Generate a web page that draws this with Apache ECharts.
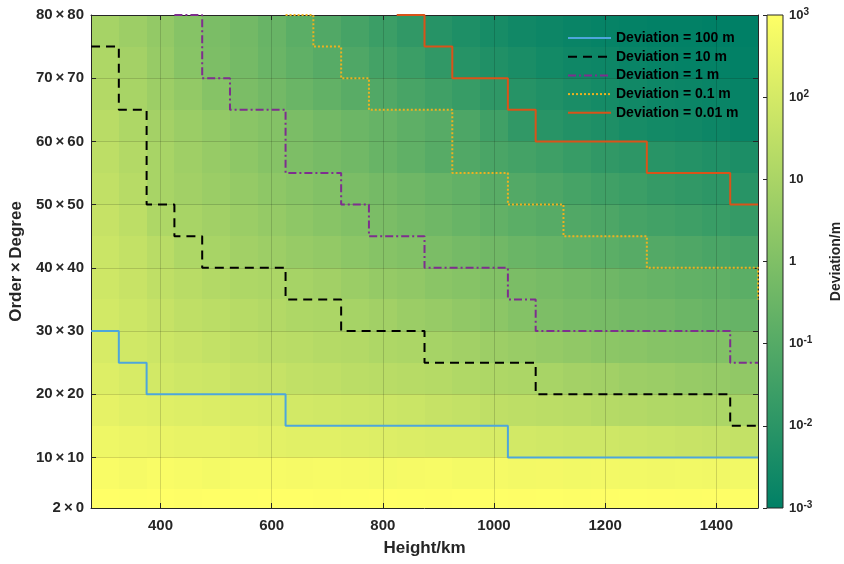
<!DOCTYPE html>
<html>
<head>
<meta charset="utf-8">
<script src="https://cdn.jsdelivr.net/npm/echarts@6/dist/echarts.min.js"></script>
<style>
html,body{margin:0;padding:0;background:#fff}
#main{width:844px;height:564px}
</style>
</head>
<body>
<div id="main"></div>
<script>
// cell edges: height (km) and order/degree
var xEdges = [275,325,375,425,475,525,575,625,675,725,775,825,875,925,975,1025,1075,1125,1175,1225,1275,1325,1375,1425,1475];
var yEdges = [2,5,10,15,20,25,30,35,40,45,50,55,60,65,70,75,80];

// log10(deviation / m), one array per order band, from low to high degree
var band2  = [3.0,2.98,3.0,2.97,3.0,2.98,2.99,3.0,2.97,2.98,3.0,2.98,2.97,2.99,2.98,2.97,2.98,2.96,2.97,2.98,2.97,2.96,2.97,2.96];
var band5  = [2.85,2.78,2.85,2.82,2.75,2.8,2.82,2.78,2.8,2.78,2.75,2.78,2.8,2.75,2.77,2.72,2.74,2.7,2.72,2.7,2.68,2.7,2.68,2.7];
var band10 = [2.6,2.55,2.5,2.45,2.45,2.4,2.35,2.3,2.3,2.25,2.2,2.15,2.1,2.1,2.05,1.95,1.9,1.85,1.85,1.8,1.75,1.7,1.65,1.6];
var band15 = [2.4,2.3,2.25,2.2,2.15,2.1,2.05,1.95,1.9,1.85,1.8,1.75,1.65,1.6,1.5,1.45,1.4,1.35,1.25,1.2,1.15,1.1,1.05,0.95];
var band20 = [2.2,2.05,1.95,1.85,1.8,1.7,1.65,1.55,1.5,1.4,1.35,1.3,1.25,1.15,1.1,1.05,0.95,0.85,0.8,0.7,0.65,0.55,0.5,0.4];
var band25 = [2.05,1.9,1.8,1.7,1.6,1.5,1.4,1.35,1.25,1.2,1.1,1.05,0.9,0.8,0.7,0.6,0.5,0.4,0.3,0.25,0.15,0.1,0.05,-0.05];
var band30 = [1.95,1.8,1.65,1.5,1.4,1.3,1.2,1.1,1.05,0.9,0.8,0.65,0.55,0.4,0.3,0.1,-0.05,-0.15,-0.2,-0.3,-0.35,-0.45,-0.55,-0.6];
var band35 = [1.85,1.7,1.5,1.35,1.2,1.1,1.05,0.9,0.8,0.65,0.5,0.4,0.25,0.15,0.05,-0.1,-0.2,-0.3,-0.4,-0.5,-0.6,-0.7,-0.75,-0.85];
var band40 = [1.75,1.6,1.35,1.1,0.95,0.8,0.7,0.55,0.45,0.3,0.15,0.05,-0.1,-0.25,-0.35,-0.5,-0.6,-0.75,-0.85,-0.95,-1.05,-1.15,-1.25,-1.35];
var band45 = [1.65,1.45,1.1,0.95,0.8,0.65,0.5,0.35,0.2,0.05,-0.1,-0.25,-0.4,-0.55,-0.7,-0.85,-0.95,-1.1,-1.2,-1.35,-1.45,-1.55,-1.65,-1.75];
var band50 = [1.55,1.3,0.95,0.8,0.65,0.5,0.35,0.2,0.05,-0.1,-0.25,-0.4,-0.55,-0.7,-0.9,-1.05,-1.2,-1.35,-1.5,-1.6,-1.75,-1.85,-1.95,-2.05];
var band55 = [1.45,1.2,0.95,0.75,0.55,0.35,0.15,-0.05,-0.2,-0.35,-0.55,-0.75,-0.95,-1.1,-1.25,-1.4,-1.55,-1.7,-1.85,-1.95,-2.05,-2.15,-2.25,-2.35];
var band60 = [1.35,1.1,0.85,0.65,0.45,0.25,0.1,-0.1,-0.3,-0.45,-0.6,-0.8,-0.95,-1.2,-1.5,-1.85,-2.05,-2.2,-2.3,-2.45,-2.55,-2.6,-2.7,-2.8];
var band65 = [1.2,0.95,0.7,0.45,0.15,-0.1,-0.3,-0.5,-0.7,-0.9,-1.1,-1.3,-1.5,-1.7,-1.9,-2.1,-2.25,-2.4,-2.5,-2.6,-2.7,-2.75,-2.8,-2.85];
var band70 = [1.1,0.85,0.55,0.2,-0.05,-0.25,-0.5,-0.75,-0.95,-1.15,-1.4,-1.6,-1.85,-2.1,-2.25,-2.4,-2.55,-2.65,-2.7,-2.8,-2.85,-2.9,-2.9,-2.95];
var band75 = [0.9,0.7,0.45,0.15,-0.1,-0.3,-0.55,-0.85,-1.1,-1.35,-1.6,-1.85,-2.1,-2.3,-2.45,-2.6,-2.7,-2.8,-2.85,-2.9,-2.95,-2.95,-3.0,-3.0];

// contour lines [height, degree], each point starts a horizontal step
var line100m = [[275,30],[325,25],[375,20],[625,15],[1025,10],[1475,10]];
var line10m  = [[275,75],[325,65],[375,50],[425,45],[475,40],[625,35],[725,30],[875,25],[1075,20],[1425,15],[1475,15]];
var line1m   = [[425,80],[475,70],[525,65],[625,55],[725,50],[775,45],[875,40],[1025,35],[1075,30],[1425,25],[1475,25]];
var line01m  = [[625,80],[675,75],[725,70],[775,65],[925,55],[1025,50],[1125,45],[1275,40],[1475,40],[1475,35]];
var line001m = [[825,80],[875,75],[925,70],[1025,65],[1075,60],[1275,55],[1425,50],[1475,50]];

var lineNames = ['Deviation = 100 m','Deviation = 10 m','Deviation = 1 m','Deviation = 0.1 m','Deviation = 0.01 m'];

var xTicks = [400,600,800,1000,1200,1400];
var yTicks = [10,20,30,40,50,60,70];
var yLabelValues = [2,10,20,30,40,50,60,70,80];
var yLabels = ['2×0','10×10','20×20','30×30','40×40','50×50','60×60','70×70','80×80'];

var FONT = '"Liberation Sans", Arial, sans-serif';
var INK = '#262626';

var bands = [band2,band5,band10,band15,band20,band25,band30,band35,band40,band45,band50,band55,band60,band65,band70,band75];
var cells = [];
for (var r = 0; r < bands.length; r++) {
    for (var c = 0; c < bands[r].length; c++) {
        cells.push([xEdges[c], xEdges[c+1], yEdges[r], yEdges[r+1], bands[r][c]]);
    }
}

function renderCell(params, api) {
    var p0 = api.coord([api.value(0), api.value(3)]);
    var p1 = api.coord([api.value(1), api.value(2)]);
    var x0 = Math.round(p0[0]), y0 = Math.round(p0[1]);
    var x1 = Math.round(p1[0]), y1 = Math.round(p1[1]);
    return {
        type: 'rect',
        shape: {x: x0, y: y0, width: x1 - x0, height: y1 - y0},
        style: {fill: api.visual('color')}
    };
}

// TeX-like spacing around the times sign
function spaced(s) {
    return s.replace('×', '\u2009×\u2009');
}

function yLabel(v) {
    var i = yLabelValues.indexOf(v);
    return i >= 0 ? spaced(yLabels[i]) : '';
}

function cbLabel(v) {
    if (v === 0) return '{b|1}';
    if (v === 1) return '{b|10}';
    return '{b|10}{s|' + v + '}';
}

var myChart = echarts.init(document.getElementById('main'));

var lineStyles = [
    {color: '#4da6dc', width: 2, type: 'solid'},
    {color: '#000000', width: 2, type: [9, 6]},
    {color: '#7e2f8e', width: 2, type: [8, 3, 2, 3]},
    {color: '#edb120', width: 2, type: [2, 2]},
    {color: '#d95319', width: 2, type: 'solid'}
];
var lineData = [line100m, line10m, line1m, line01m, line001m];

var series = [{
    type: 'custom',
    xAxisIndex: 0,
    yAxisIndex: 0,
    renderItem: renderCell,
    encode: {x: [0, 1], y: [2, 3]},
    data: cells,
    z: 1,
    silent: true
}];
for (var k = 0; k < lineData.length; k++) {
    series.push({
        name: lineNames[k],
        type: 'line',
        step: 'end',
        symbol: 'none',
        xAxisIndex: 0,
        yAxisIndex: 0,
        clip: false,
        z: 6,
        lineStyle: lineStyles[k],
        itemStyle: {color: lineStyles[k].color},
        data: lineData[k]
    });
}

var option = {
    animation: false,
    backgroundColor: '#ffffff',
    textStyle: {fontFamily: FONT},
    visualMap: {
        type: 'continuous',
        show: false,
        min: -3,
        max: 3,
        dimension: 4,
        seriesIndex: 0,
        inRange: {color: ['#008066', '#ffff66']}
    },
    legend: {
        data: lineNames,
        orient: 'vertical',
        left: 567,
        top: 31,
        padding: 0,
        itemWidth: 43,
        itemHeight: 14,
        itemGap: 4.7,
        itemStyle: {opacity: 0, borderWidth: 0},
        textStyle: {fontFamily: FONT, fontWeight: 'bold', fontSize: 14, color: '#000'}
    },
    grid: [
        {left: 89, top: 15, width: 669, height: 493, containLabel: false},
        {left: 767, top: 15, width: 24, height: 493, show: true, borderColor: INK, borderWidth: 1,
         backgroundColor: new echarts.graphic.LinearGradient(0, 0, 0, 1, [
             {offset: 0, color: '#ffff66'}, {offset: 1, color: '#008066'}])}
    ],
    xAxis: [
        {
            gridIndex: 0, type: 'value', min: 275, max: 1475, z: 3,
            name: 'Height/km', nameLocation: 'middle', nameGap: 32,
            nameTextStyle: {fontFamily: FONT, fontWeight: 'bold', fontSize: 17, color: INK},
            axisLine: {show: true, onZero: false, lineStyle: {color: INK, width: 1}},
            axisTick: {show: true, inside: true, length: 5, customValues: xTicks, lineStyle: {color: INK}},
            axisLabel: {customValues: xTicks, margin: 10, formatter: function (v) { return String(v); },
                        fontFamily: FONT, fontWeight: 'bold', fontSize: 15, color: INK},
            splitLine: {show: true, customValues: xTicks, lineStyle: {color: 'rgba(0,0,0,0.15)', width: 1}}
        },
        {
            gridIndex: 0, type: 'value', min: 275, max: 1475, position: 'top', z: 3,
            axisLine: {show: true, onZero: false, lineStyle: {color: INK, width: 1}},
            axisTick: {show: true, inside: true, length: 5, customValues: xTicks, lineStyle: {color: INK}},
            axisLabel: {show: false},
            splitLine: {show: false}
        },
        {gridIndex: 1, type: 'value', min: 0, max: 1, show: false}
    ],
    yAxis: [
        {
            gridIndex: 0, type: 'value', min: 2, max: 80, z: 3,
            name: spaced('Order×Degree'), nameLocation: 'middle', nameGap: 57, nameRotate: 90,
            nameTextStyle: {fontFamily: FONT, fontWeight: 'bold', fontSize: 17, color: INK},
            axisLine: {show: true, onZero: false, lineStyle: {color: INK, width: 1}},
            axisTick: {show: true, inside: true, length: 5, customValues: yTicks, lineStyle: {color: INK}},
            axisLabel: {customValues: yLabelValues, formatter: yLabel, margin: 7, fontFamily: FONT, fontWeight: 'bold', fontSize: 15, color: INK},
            splitLine: {show: true, customValues: yTicks, lineStyle: {color: 'rgba(0,0,0,0.15)', width: 1}}
        },
        {
            gridIndex: 0, type: 'value', min: 2, max: 80, position: 'right', z: 3,
            axisLine: {show: true, onZero: false, lineStyle: {color: INK, width: 1}},
            axisTick: {show: true, inside: true, length: 5, customValues: yTicks, lineStyle: {color: INK}},
            axisLabel: {show: false},
            splitLine: {show: false}
        },
        {
            gridIndex: 1, type: 'value', min: -3, max: 3, interval: 1, position: 'right', z: 3,
            name: 'Deviation/m', nameLocation: 'middle', nameGap: 46, nameRotate: 90,
            nameTextStyle: {fontFamily: FONT, fontWeight: 'bold', fontSize: 14, color: INK},
            axisLine: {show: false},
            axisTick: {show: true, inside: true, length: 4, lineStyle: {color: INK}},
            axisLabel: {
                margin: 6, formatter: cbLabel,
                rich: {
                    b: {fontFamily: FONT, fontWeight: 'bold', fontSize: 13, color: INK, lineHeight: 16},
                    s: {fontFamily: FONT, fontWeight: 'bold', fontSize: 10, color: INK, lineHeight: 16, verticalAlign: 'top', padding: [0, 0, 6, 0]}
                }
            },
            splitLine: {show: false}
        }
    ],
    series: series
};

myChart.setOption(option);

window.onresize = function () {
    myChart.resize();
};
</script>
</body>
</html>
